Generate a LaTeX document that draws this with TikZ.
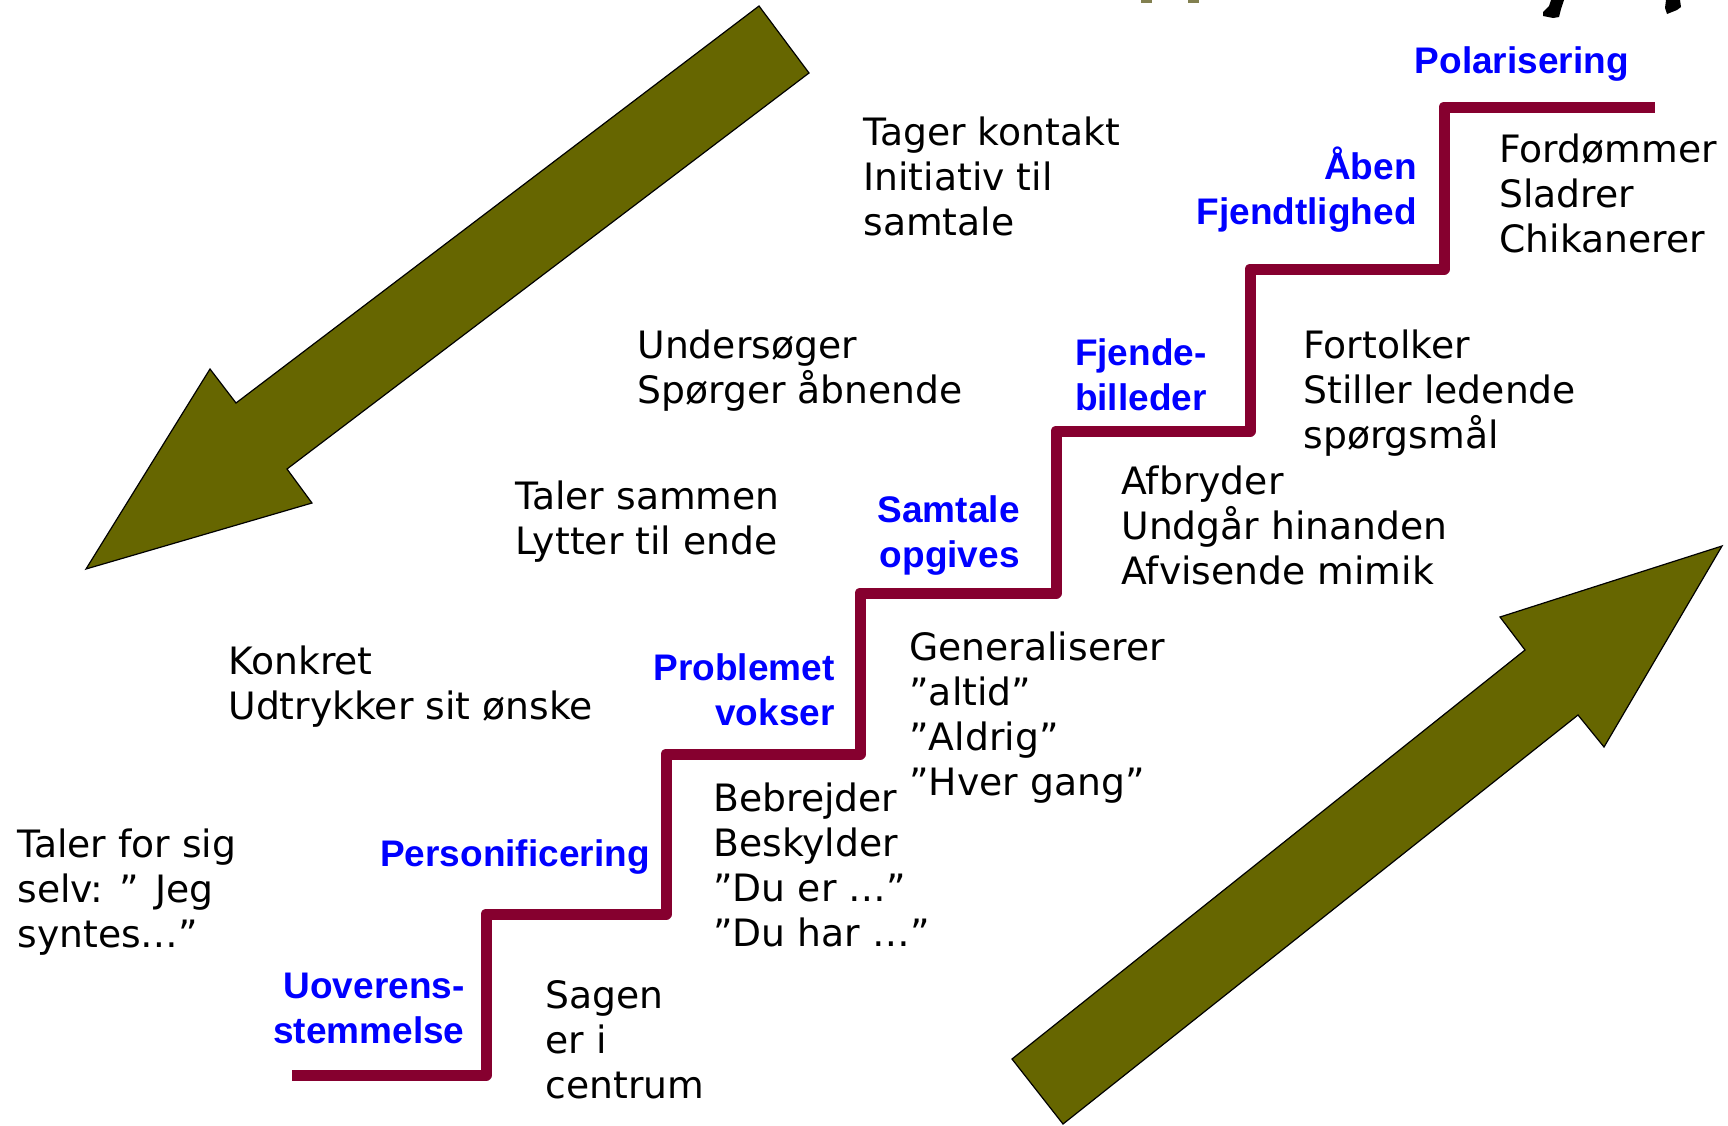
\documentclass[tikz,border=0pt]{standalone}
\usepackage{fontspec}
\setmainfont{DejaVu Sans}
\newfontfamily\labelfont{Liberation Sans}
\definecolor{olivearrow}{RGB}{102,102,0}
\definecolor{stair}{RGB}{134,0,47}
\definecolor{labelblue}{RGB}{0,0,255}
\definecolor{fragolive}{RGB}{130,128,80}
\begin{document}
\begin{tikzpicture}[x=0.5pt,y=-0.5pt,
  txt/.style={anchor=base west, align=left, inner sep=0pt, font=\fontsize{18.85}{22.45}\selectfont},
  lbl/.style={anchor=base east, align=right, inner sep=0pt, text=labelblue, font=\labelfont\bfseries\fontsize{18.5}{22.45}\selectfont},
  bigarrow/.style={fill=olivearrow, draw=black, line width=0.6pt, line join=miter},
  stairline/.style={draw=stair, line width=5.5pt, line join=round}]
\useasboundingbox (0,0) rectangle (1728,1125);

% fragments at the top edge
\fill[fragolive] (1141,0) rectangle (1152,3);
\fill[fragolive] (1188,0) rectangle (1199,3);
\fill[black] (1551,0) -- (1564,0) -- (1561,9) -- (1559,17) -- (1553,18) -- (1543,16) -- (1543,12) -- (1549,6) -- cycle;
\fill[black] (1666,0) -- (1680,0) -- (1681,7) -- (1677,10) -- (1667,14) -- (1665,8) -- cycle;

% big arrows
\draw[bigarrow] (759,6) -- (236,403) -- (210,369) -- (86,569) -- (312,503) -- (287,469) -- (809,73) -- cycle;
\draw[bigarrow] (1012,1059) -- (1525,650) -- (1500,617) -- (1722,546) -- (1604,747) -- (1578,715) -- (1063,1124) -- cycle;

% staircase
\coordinate (s0) at (292,1075);
\coordinate (s7) at (1655,107);
\draw[stairline] (s0) -- (486,1075) -- (486,914) -- (666,914) -- (666,754) -- (860,754) -- (860,593) -- (1056,593) -- (1056,431) -- (1250,431) -- (1250,269) -- (1444,269) -- (1444,107) -- (s7);

% blue stage labels (anchored at the baseline of the last line)
\node[lbl] (l7) at (1629,73) {Polarisering};
\node[lbl] (l6) at (1417,224) {Åben\\Fjendtlighed};
\node[lbl] (l5) at (1207,410) {Fjende-\\billeder};
\node[lbl] (l4) at (1020,567) {Samtale\\opgives};
\node[lbl] (l3) at (835,725) {Problemet\\vokser};
\node[lbl] (l2) at (650,866) {Personificering};
\node[lbl] (l1) at (465,1043) {Uoverens-\\stemmelse};

% black texts (anchored at the baseline of the last line)
\node[txt] (t1) at (863,235) {Tager kontakt\\Initiativ til\\samtale};
\node[txt] (t2) at (637,403) {Undersøger\\Spørger åbnende};
\node[txt] (t3) at (515,554) {Taler sammen\\Lytter til ende};
\node[txt] (t4) at (228,719) {Konkret\\Udtrykker sit ønske};
\node[txt] (t5) at (17,947) {Taler for sig\\selv: ” Jeg\\syntes…”};
\node[txt] (t6) at (545,1098) {Sagen\\er i\\centrum};
\node[txt] (t7) at (713,946) {Bebrejder\\Beskylder\\”Du er …”\\”Du har …”};
\node[txt] (t8) at (909,795) {Generaliserer\\”altid”\\”Aldrig”\\”Hver gang”};
\node[txt] (t9) at (1121,584) {Afbryder\\Undgår hinanden\\Afvisende mimik};
\node[txt] (t10) at (1303,448) {Fortolker\\Stiller ledende\\spørgsmål};
\node[txt] (t11) at (1499,252) {Fordømmer\\Sladrer\\Chikanerer};
\end{tikzpicture}
\end{document}
